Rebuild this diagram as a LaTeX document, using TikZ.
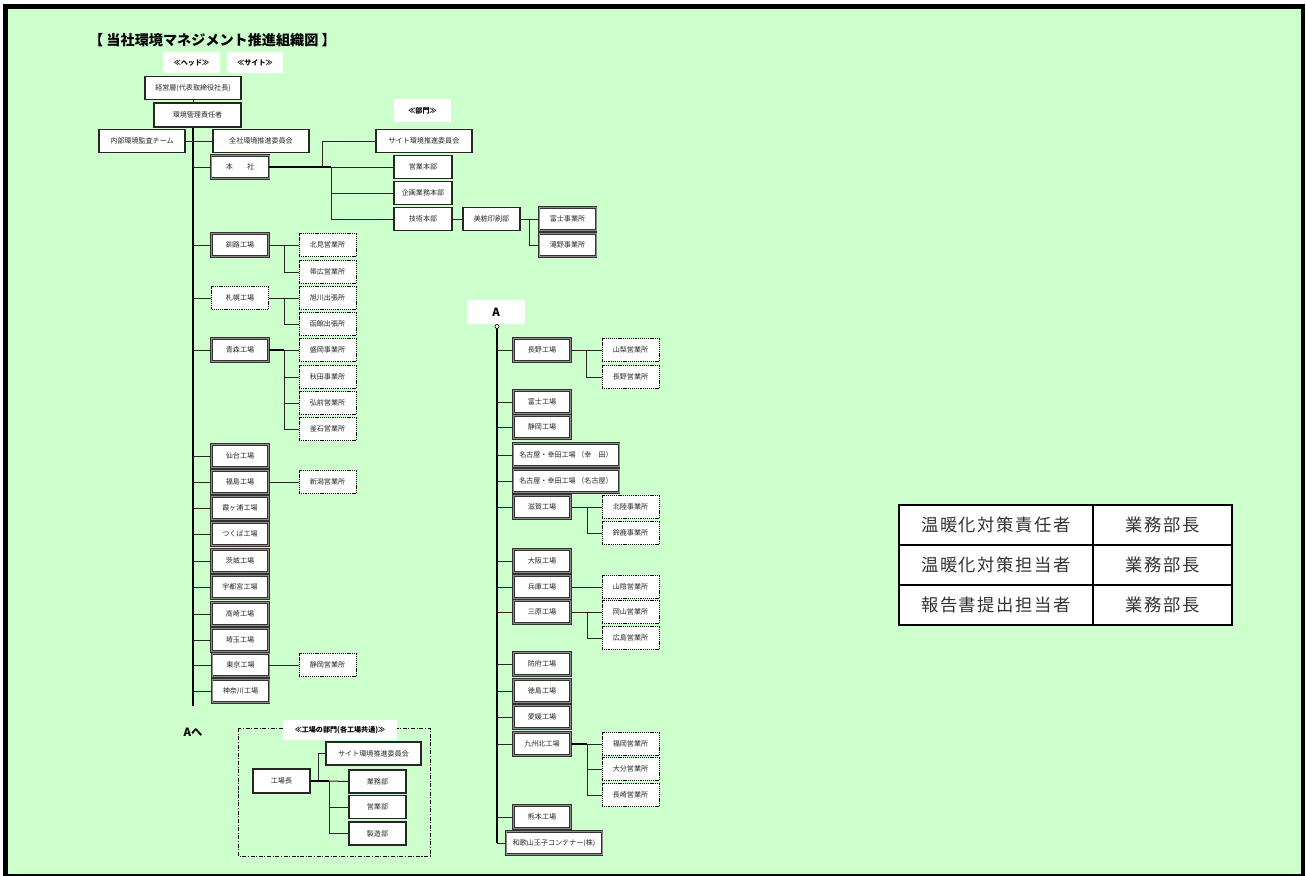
\documentclass[tikz,border=0pt]{standalone}
\usepackage{fontspec}
\setmainfont{Noto Sans CJK JP}
\newfontfamily\jptab[LetterSpace=9]{Noto Sans CJK JP}
\definecolor{bg}{RGB}{204,255,204}
\tikzset{
  base/.style={fill=white, inner sep=0pt, font=\fontsize{5.3}{6}\selectfont, text=black!85,
    minimum height=23*0.75pt, minimum width=57*0.75pt},
  sbox/.style={base, draw=black!85, line width=0.8pt},
  dbox/.style={base, draw=black!80, line width=0.45pt, double=black!45, double distance=0.75pt},
  obox/.style={base, draw=black, line width=0.75pt, dash pattern=on 0.9pt off 0.7pt},
  hdr/.style={fill=white, inner sep=0pt, font=\bfseries\fontsize{5.3}{6}\selectfont,
    minimum height=21*0.75pt, minimum width=57*0.75pt},
  ln/.style={line width=0.75pt, black!85},
  tk/.style={line width=1.5pt, black},
  tcell/.style={draw=black, line width=1.5pt, fill=white, inner sep=0pt,
    minimum height=40*0.75pt, font=\jptab\fontsize{13}{15}\selectfont, text=black!80},
}
\begin{document}
\begin{tikzpicture}[x=0.75pt, y=-0.75pt]
\useasboundingbox (0,0) rectangle (1306,875);
\fill[white] (0,0) rectangle (1306,875);
\filldraw[fill=bg, draw=black, line width=3.5pt] (5.5,6.5) rectangle (1303,876);

% title and headers
\node[font=\bfseries\fontsize{10.6}{12}\selectfont] (title) at (212.5,40) {【\ 当社環境マネジメント推進組織図\ 】};
\node[hdr] (hHead) at (191.5,62.5) {≪ヘッド≫};
\node[hdr, minimum width=56*0.75pt] (hSite) at (255,62.5) {≪サイト≫};
\node[hdr, minimum width=57*0.75pt, minimum height=23*0.75pt] (hBumon) at (422.5,110.5) {≪部門≫};

% head
\node[sbox, minimum width=96*0.75pt] (keiei) at (193,88) {経営層(代表取締役社長)};
\node[sbox, minimum width=87*0.75pt, minimum height=24*0.75pt] (kankyo) at (197.5,115) {環境管理責任者};
\node[sbox, minimum width=86*0.75pt] (naibu) at (142,141) {内部環境監査チーム};
\node[sbox, minimum width=96*0.75pt] (zensha) at (261,141) {全社環境推進委員会};
\node[dbox, minimum width=58*0.75pt] (honsha) at (240,167) {本　　社};

% departments
\node[sbox, minimum width=96*0.75pt] (site1) at (424,141) {サイト環境推進委員会};
\node[sbox, minimum width=58*0.75pt] (eigyo) at (423,167) {営業本部};
\node[sbox, minimum width=58*0.75pt] (kikaku) at (423,193) {企画業務本部};
\node[sbox, minimum width=58*0.75pt] (gijutsu) at (423,219) {技術本部};
\node[sbox] (bisho) at (491.5,219) {美粧印刷部};
\node[dbox] (fujiJ) at (567.5,219) {富士事業所};
\node[dbox] (takino) at (567.5,245) {滝野事業所};

% left factories
\node[dbox] (kushiro) at (240,245) {釧路工場};
\node[obox] (kitami) at (327.5,245) {北見営業所};
\node[obox] (obihiro) at (327.5,272) {帯広営業所};
\node[obox] (sapporo) at (240,298) {札幌工場};
\node[obox] (asahikawa) at (327.5,298) {旭川出張所};
\node[obox] (hakodate) at (327.5,324) {函館出張所};
\node[dbox] (aomori) at (240,350) {青森工場};
\node[obox] (morioka) at (327.5,350) {盛岡事業所};
\node[obox] (akita) at (327.5,377) {秋田事業所};
\node[obox] (hirosaki) at (327.5,403) {弘前営業所};
\node[obox] (kamaishi) at (327.5,429) {釜石営業所};
\node[dbox] (sendai) at (240,456) {仙台工場};
\node[dbox] (fukushima) at (240,482) {福島工場};
\node[obox] (niigata) at (327.5,482) {新潟営業所};
\node[dbox] (kasumi) at (240,508) {霞ヶ浦工場};
\node[dbox] (tsukuba) at (240,534) {つくば工場};
\node[dbox] (ibaraki) at (240,561) {茨城工場};
\node[dbox] (utsunomiya) at (240,587) {宇都宮工場};
\node[dbox] (takasaki) at (240,614) {高崎工場};
\node[dbox] (saitama) at (240,640) {埼玉工場};
\node[dbox] (tokyo) at (240.5,665) {東京工場};
\node[obox] (shizuokaE) at (327.5,665) {静岡営業所};
\node[dbox] (kanagawa) at (240.5,691) {神奈川工場};
\node[font=\bfseries\fontsize{8.5}{10}\selectfont] (toA) at (193,732) {Aへ};

% left trunk
\coordinate (tBot) at (193,706);
\draw[ln] (keiei.south) -- (keiei.south |- kankyo.north);
\draw[tk] (kankyo.south -| keiei.south) -- (tBot);
\draw[ln] (naibu.east) -- (zensha.west);
\foreach \n in {honsha,kushiro,sapporo,aomori,sendai,fukushima,kasumi,tsukuba,ibaraki,utsunomiya,takasaki,saitama,tokyo,kanagawa}
  \draw[ln] (\n.west) -- (\n.west -| tBot);

% honsha branches
\coordinate (hb) at (331,167);
\coordinate (hs) at (322,167);
\draw[tk] (honsha.east) -- (hb);
\draw[ln] (hs) |- (site1.west);
\draw[ln] (hb) -- (eigyo.west);
\draw[ln] (hb) |- (kikaku.west);
\draw[ln] (hb) |- (gijutsu.west);
\draw[ln] (gijutsu.east) -- (bisho.west);
\coordinate (bb) at (529,219);
\draw[ln] (bisho.east) -- (fujiJ.west);
\draw[ln] (bb) |- (takino.west);

% left sub branches
\coordinate (bK) at (284,245);
\draw[ln] (kushiro.east) -- (kitami.west);
\draw[ln] (bK) |- (obihiro.west);
\coordinate (bS) at (284,298);
\draw[ln] (sapporo.east) -- (asahikawa.west);
\draw[ln] (bS) |- (hakodate.west);
\coordinate (bA) at (284,350);
\draw[tk] (aomori.east) -- (bA);
\draw[ln] (bA) -- (morioka.west);
\draw[ln] (bA) |- (akita.west);
\draw[ln] (bA) |- (hirosaki.west);
\draw[ln] (bA) |- (kamaishi.west);
\draw[ln] (fukushima.east) -- (niigata.west);
\draw[ln] (tokyo.east) -- (shizuokaE.west);

% right column
\node[hdr, minimum width=58*0.75pt, minimum height=24*0.75pt, font=\bfseries\fontsize{8.5}{10}\selectfont] (Alabel) at (496,312) {A};
\node[dbox] (nagano) at (542,350) {長野工場};
\node[obox] (yamanashi) at (630.5,350) {山梨営業所};
\node[obox] (naganoE) at (630.5,377) {長野営業所};
\node[dbox] (fujiK) at (542,402) {富士工場};
\node[dbox] (shizuokaK) at (542,427) {静岡工場};
\node[dbox, minimum width=106*0.75pt] (nagoya1) at (566,455) {名古屋・幸田工場 （幸　田）};
\node[dbox, minimum width=106*0.75pt] (nagoya2) at (566,481) {名古屋・幸田工場 （名古屋）};
\node[dbox] (shiga) at (542,507) {滋賀工場};
\node[obox] (hokuriku) at (630.5,507) {北陸事業所};
\node[obox] (suzuka) at (630.5,533) {鈴鹿事業所};
\node[dbox] (osaka) at (542,561) {大阪工場};
\node[dbox] (hyogo) at (542,587) {兵庫工場};
\node[obox] (sanin) at (630.5,587) {山陰営業所};
\node[dbox] (mihara) at (542,612) {三原工場};
\node[obox] (okayama) at (630.5,612) {岡山営業所};
\node[obox] (hiroshima) at (630.5,638) {広島営業所};
\node[dbox] (hofu) at (542,664) {防府工場};
\node[dbox] (tokushima) at (542,691) {徳島工場};
\node[dbox] (ehime) at (542,717) {愛媛工場};
\node[dbox] (kyushu) at (542,744) {九州北工場};
\node[obox] (fukuoka) at (630.5,744) {福岡営業所};
\node[obox] (oita) at (630.5,769) {大分営業所};
\node[obox] (nagasaki) at (630.5,795) {長崎営業所};
\node[dbox] (kumamoto) at (542,817) {熊本工場};
\node[dbox, minimum width=96*0.75pt] (wakayama) at (554,843) {和歌山王子コンテナー(株)};

\node[circle, draw=black, fill=white, inner sep=0pt, minimum size=4*0.75pt, line width=0.5pt] (Acirc) at (497,326.5) {};
\draw[tk] (Acirc.south) -- (Acirc.south |- wakayama.west);
\draw[ln] (Acirc.south |- wakayama.west) -- (wakayama.west);
\foreach \n in {nagano,fujiK,shizuokaK,nagoya1,nagoya2,shiga,osaka,hyogo,mihara,hofu,tokushima,ehime,kyushu,kumamoto}
  \draw[ln] (\n.west) -- (\n.west -| Acirc.south);

\coordinate (bN) at (586,350);
\draw[ln] (nagano.east) -- (yamanashi.west);
\draw[ln] (bN) |- (naganoE.west);
\coordinate (bSh) at (587,507);
\draw[ln] (shiga.east) -- (hokuriku.west);
\draw[ln] (bSh) |- (suzuka.west);
\draw[ln] (hyogo.east) -- (sanin.west);
\coordinate (bM) at (587,612);
\draw[ln] (mihara.east) -- (okayama.west);
\draw[ln] (bM) |- (hiroshima.west);
\coordinate (bQ) at (587,744);
\draw[tk] (kyushu.east) -- (bQ);
\draw[ln] (bQ) -- (fukuoka.west);
\draw[ln] (bQ) |- (oita.west);
\draw[ln] (bQ) |- (nagasaki.west);

% factory departments box
\draw[line width=0.75pt, dash pattern=on 3pt off 1.2pt on 0.8pt off 1.2pt] (238,728) rectangle (430,856);
\node[hdr, minimum width=114*0.75pt, minimum height=20*0.75pt] (kbLabel) at (340,730) {≪工場の部門(各工場共通)≫};
\node[sbox, minimum height=24*0.75pt] (kojo) at (281.5,781) {工場長};
\node[sbox, minimum width=95*0.75pt] (site2) at (373.5,753.5) {サイト環境推進委員会};
\node[sbox] (gyomu) at (377.5,781.5) {業務部};
\node[sbox] (eigyoB) at (377.5,807) {営業部};
\node[sbox] (seizo) at (377.5,833.5) {製造部};
\coordinate (k1) at (318,781);
\coordinate (k2) at (329,781);
\draw[ln] (k1) |- (site2.west);
\draw[tk] (kojo.east) -- (k2);
\draw[ln] (k2) -- (gyomu.west);
\draw[ln] (k2) |- (eigyoB.west);
\draw[ln] (k2) |- (seizo.west);

% table
\node[tcell, minimum width=194*0.75pt] (r1a) at (996,525) {温暖化対策責任者};
\node[tcell, minimum width=139*0.75pt] (r1b) at (1162.5,525) {業務部長};
\node[tcell, minimum width=194*0.75pt] (r2a) at (996,565) {温暖化対策担当者};
\node[tcell, minimum width=139*0.75pt] (r2b) at (1162.5,565) {業務部長};
\node[tcell, minimum width=194*0.75pt] (r3a) at (996,605) {報告書提出担当者};
\node[tcell, minimum width=139*0.75pt] (r3b) at (1162.5,605) {業務部長};
\end{tikzpicture}
\end{document}
